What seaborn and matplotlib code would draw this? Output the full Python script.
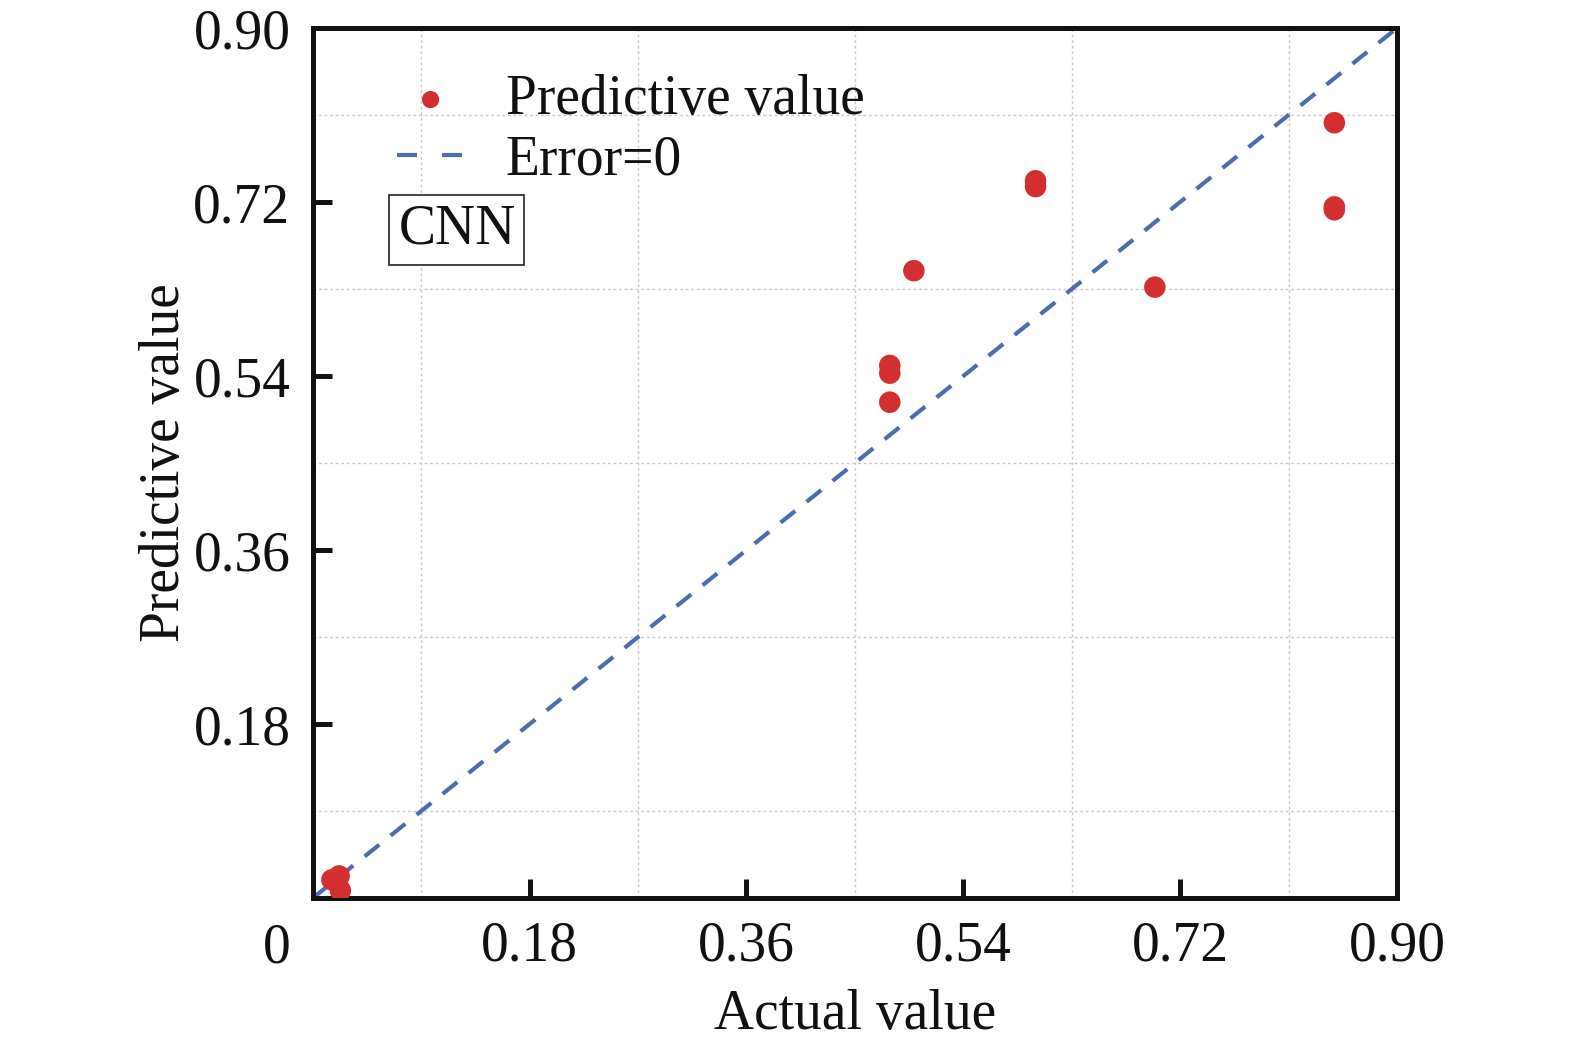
import numpy as np
import pandas as pd
import seaborn as sns
import matplotlib.pyplot as plt
from matplotlib.ticker import MultipleLocator

# actual vs predicted
actual = [0.016, 0.022, 0.023, 0.479, 0.479, 0.479, 0.499, 0.600, 0.600, 0.699, 0.848, 0.848, 0.848]
predicted = [0.019, 0.023, 0.008, 0.551, 0.543, 0.513, 0.649, 0.742, 0.736, 0.632, 0.802, 0.715, 0.712]
ideal = [0.0, 0.9]
tick_vals = [0.18, 0.36, 0.54, 0.72, 0.90]
tick_labels = ["0.18", "0.36", "0.54", "0.72", "0.90"]

df = pd.DataFrame({"actual": actual, "predicted": predicted})

sns.set_style("white")
plt.rcParams['font.family'] = ['Liberation Serif', 'DejaVu Serif']
plt.rcParams['text.color'] = '#111111'
plt.rcParams['axes.labelcolor'] = '#111111'
plt.rcParams['xtick.color'] = '#111111'
plt.rcParams['ytick.color'] = '#111111'

fs = 40

fig = plt.figure(figsize=(15.75, 10.45), dpi=100)
ax = fig.add_axes([0.1985, 0.1405, 0.6885, 0.8327])

sns.scatterplot(data=df, x="actual", y="predicted", ax=ax, color="#d32f2f",
                s=240, edgecolor="none", label="Predictive value", zorder=3)
sns.lineplot(x=ideal, y=ideal, ax=ax, color="#4a6db0", linewidth=3,
             label="Error=0", zorder=2)
ax.lines[-1].set_linestyle((0, (4.5, 3.5)))

ax.set_xlim(0, 0.9)
ax.set_ylim(0, 0.9)
ax.set_xticks(tick_vals)
ax.set_xticklabels(tick_labels)
ax.set_yticks(tick_vals)
ax.set_yticklabels(tick_labels)
ax.xaxis.set_minor_locator(MultipleLocator(0.09))
ax.yaxis.set_minor_locator(MultipleLocator(0.09))
ax.grid(which="minor", color="#c8c8c8", linestyle=(0, (2, 2)), linewidth=1)
ax.grid(which="major", visible=False)
ax.tick_params(which="major", direction="in", length=14, width=3.6, labelsize=fs,
               pad=16, bottom=True, left=True, top=False, right=False)
ax.tick_params(which="minor", length=0)
for sp in ax.spines.values():
    sp.set_linewidth(3.6)
    sp.set_color("#111111")

ax.text(-0.033, -0.058, "0", transform=ax.transAxes, fontsize=fs,
        ha="center", va="center")

ax.set_xlabel("Actual value", fontsize=fs, labelpad=12)
ax.set_ylabel("Predictive value", fontsize=fs, labelpad=2)

leg = ax.legend(loc="upper left", bbox_to_anchor=(0.078, 0.947), frameon=False,
                fontsize=fs, handlelength=1.2, handletextpad=0.75,
                borderaxespad=0, borderpad=0, labelspacing=0.15, markerscale=0.8)
leg.get_lines()[-1].set_linestyle((0, (4.8, 6)))

ax.text(0.079, 0.768, "CNN", transform=ax.transAxes, fontsize=fs,
        ha="left", va="center",
        bbox=dict(boxstyle="square,pad=0.16", facecolor="white",
                  edgecolor="#222222", linewidth=1.2))

fig.savefig("out.png", dpi=100)
